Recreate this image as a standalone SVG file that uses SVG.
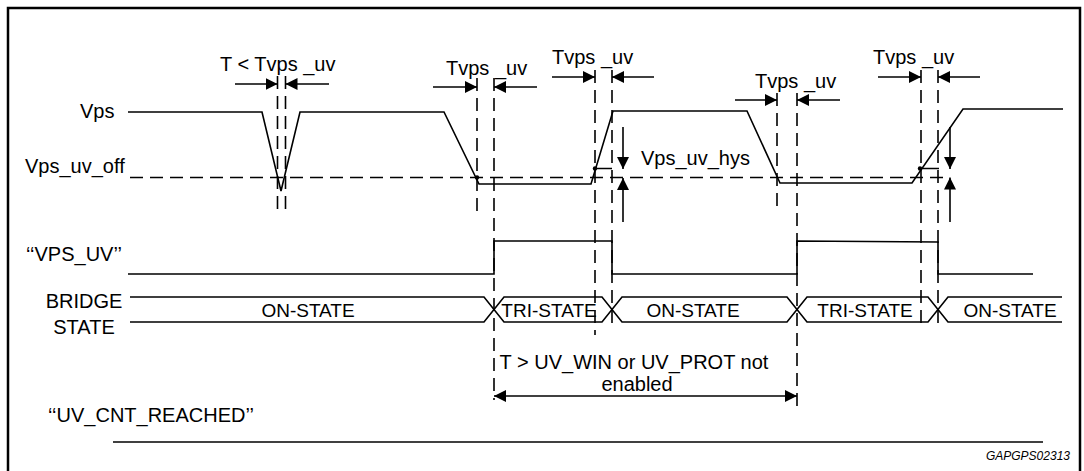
<svg xmlns="http://www.w3.org/2000/svg" width="1084" height="471" viewBox="0 0 1084 471">
<defs>
<marker id="ah" viewBox="0 0 12 12" refX="12" refY="6" markerWidth="12" markerHeight="12" markerUnits="userSpaceOnUse" orient="auto-start-reverse"><path d="M0,0 L12,6 L0,12 z" fill="#000"/></marker>
</defs>
<style>
text{font-family:"Liberation Sans",Arial,sans-serif;font-size:20px;fill:#000}
.bus text{font-size:19px;text-anchor:middle}
.bus text.lbl{font-size:20px}
text.id{font-size:12px;font-style:italic;text-anchor:end}
.w{fill:none;stroke:#000;stroke-width:1.6}
.d{fill:none;stroke:#000;stroke-width:1.6;stroke-dasharray:13 7}
.a{fill:none;stroke:#000;stroke-width:1.6;marker-end:url(#ah)}
.dot{fill:#000}
</style>
<rect x="8" y="8" width="1072" height="480" fill="none" stroke="#000" stroke-width="2.5"/>

<g id="vps">
<text x="80" y="118">Vps</text>
<text x="25" y="173">Vps_uv_off</text>
<path class="w" d="M128,112 L262,112 L281,191 L300,112 L444,112 L479,184 L591,184 L613,111 L747,111 L780,183 L912,183 L963,109 L1063,109"/>
<path class="d" d="M130,177.5 H950"/>
<path class="w" d="M595,168.5 H612 M920,168.5 H939"/>
<circle class="dot" cx="477" cy="177.5" r="2.2"/>
<circle class="dot" cx="595" cy="168.5" r="2.2"/>
<circle class="dot" cx="920" cy="168.5" r="2.2"/>
<text x="641" y="165">Vps_uv_hys</text>
</g>

<g id="vps_uv">
<text x="26" y="261">‘‘VPS_UV’’</text>
<path class="w" d="M128,274 H494 V241 H612 V274 H797 V241 L938,242 V274 H1033"/>
</g>

<g id="bridge" class="bus">
<text class="lbl" x="84" y="308">BRIDGE</text>
<text class="lbl" x="84" y="334">STATE</text>
<path class="w" d="M130,297 H484 L504,322 H602 L622,297 H787 L807,322 H928 L948,297 H1062"/>
<path class="w" d="M130,322 H484 L504,297 H602 L622,322 H787 L807,297 H928 L948,322 H1062"/>
<text x="308" y="317">ON-STATE</text>
<text x="549" y="317">TRI-STATE</text>
<text x="693" y="317">ON-STATE</text>
<text x="865" y="317">TRI-STATE</text>
<text x="1010" y="317">ON-STATE</text>
</g>

<g id="uv_cnt">
<text x="48" y="422">‘‘UV_CNT_REACHED’’</text>
<path class="w" d="M113,442 H1043"/>
</g>

<g id="connectors">
<path class="d" d="M277.5,76 V212 M285.5,76 V212 M477,78 V212 M494,78 V400 M595,70 V335 M612,70 V330 M777,93 V210 M797,93 V406 M921,70 V330 M938,70 V330"/>
<line class="a" x1="235" y1="84" x2="277.5" y2="84"/>
<line class="a" x1="329" y1="84" x2="285.5" y2="84"/>
<line class="a" x1="433" y1="87" x2="477" y2="87"/>
<line class="a" x1="537" y1="87" x2="494" y2="87"/>
<line class="a" x1="552" y1="77" x2="595" y2="77"/>
<line class="a" x1="654" y1="77" x2="612" y2="77"/>
<line class="a" x1="735" y1="100" x2="777" y2="100"/>
<line class="a" x1="840" y1="100" x2="797" y2="100"/>
<line class="a" x1="878" y1="77" x2="921" y2="77"/>
<line class="a" x1="980" y1="77" x2="938" y2="77"/>
<line class="a" x1="623" y1="127" x2="623" y2="169"/>
<line class="a" x1="623" y1="222" x2="623" y2="178"/>
<line class="a" x1="950" y1="127" x2="950" y2="169"/>
<line class="a" x1="950" y1="222" x2="950" y2="177.5"/>
<line class="a" x1="494" y1="396" x2="797" y2="396" marker-start="url(#ah)"/>
</g>

<g id="labels">
<text x="220" y="71">T &lt; Tvps _uv</text>
<text x="446" y="75">Tvps _uv</text>
<text x="552" y="64">Tvps _uv</text>
<text x="755" y="88">Tvps _uv</text>
<text x="873" y="64">Tvps _uv</text>
<text x="634" y="369" text-anchor="middle">T &gt; UV_WIN or UV_PROT not</text>
<text x="637" y="391" text-anchor="middle">enabled</text>
<text class="id" x="1070" y="460">GAPGPS02313</text>
</g>
</svg>
